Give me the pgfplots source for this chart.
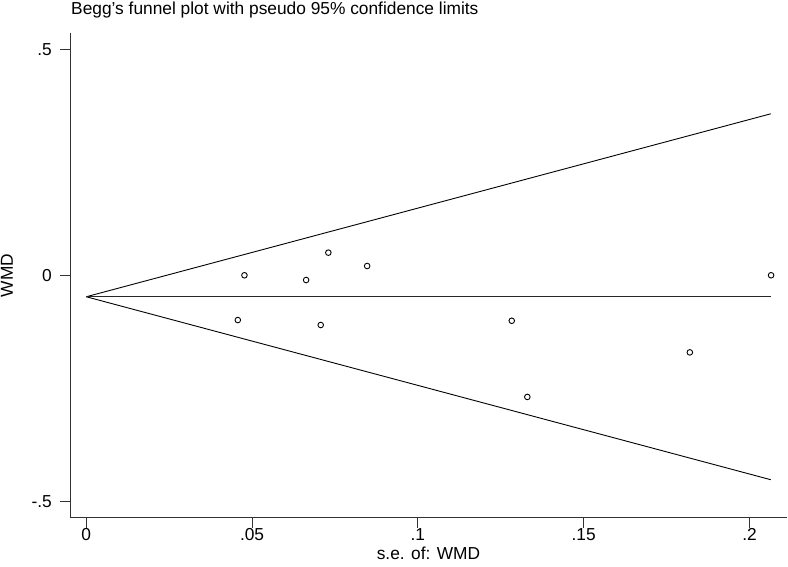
\documentclass[border=0pt]{standalone}
\usepackage{fontspec}
\setmainfont{Liberation Sans}
\usepackage{pgfplots}
\pgfplotsset{compat=1.18}
\begin{document}
\begin{tikzpicture}
\newcommand{\fs}{\fontsize{17.4}{17.4}\selectfont}
\begin{axis}[
  at={(0,0)}, anchor=south west,
  scale only axis, width=717bp, height=484.4bp,
  xmin=-0.0049, xmax=0.2113, ymin=-0.535, ymax=0.536,
  axis x line*=bottom, axis y line*=left,
  axis line style={black!80, line width=0.9pt},
  tick style={black!80, line width=0.9pt},
  tick align=outside, major tick length=10bp,
  xtick={0,0.05,0.1,0.15,0.2}, xticklabels={0,.05,.1,.15,.2},
  ytick={-0.5,0,0.5}, yticklabels={-.5,0,.5},
  x tick label style={font=\fs, anchor=base, inner sep=0pt, yshift=-13bp},
  y tick label style={font=\fs, anchor=east, inner sep=0pt, xshift=-8bp},
  xticklabel shift=0pt, yticklabel shift=0pt,
  clip=false,
]
\addplot[black, line width=0.9pt, no marks] coordinates {(0,-0.0465) (0.2064,0.358)};
\addplot[black, line width=0.9pt, no marks] coordinates {(0,-0.0465) (0.2064,-0.451)};
\addplot[black!85, line width=1.1pt, no marks] coordinates {(0,-0.0465) (0.2064,-0.0465)};
\addplot[only marks, mark=o, mark size=2.8bp, mark options={black, line width=0.9pt}] coordinates {
(0.0457,-0.098) (0.0477,0.001) (0.0663,-0.0095) (0.0707,-0.109) (0.0730,0.051)
(0.0847,0.0215) (0.1283,-0.0996) (0.1330,-0.268) (0.1820,-0.1695) (0.2065,0.001)
};
\end{axis}
\node[font=\fs, anchor=base west, inner sep=0pt] at (1bp,503.4bp) {Begg's funnel plot with pseudo 95\% confidence limits};
\node[font=\fs, anchor=base, inner sep=0pt, rotate=90] at (-57bp,242.2bp) {WMD};
\node[font=\fs, anchor=base, inner sep=0pt] at (358.5bp,-41.5bp) {s.e. of: WMD};
\pgfresetboundingbox
\path[use as bounding box] (-70bp,-49.3bp) rectangle (718bp,517.7bp);
\end{tikzpicture}
\end{document}
